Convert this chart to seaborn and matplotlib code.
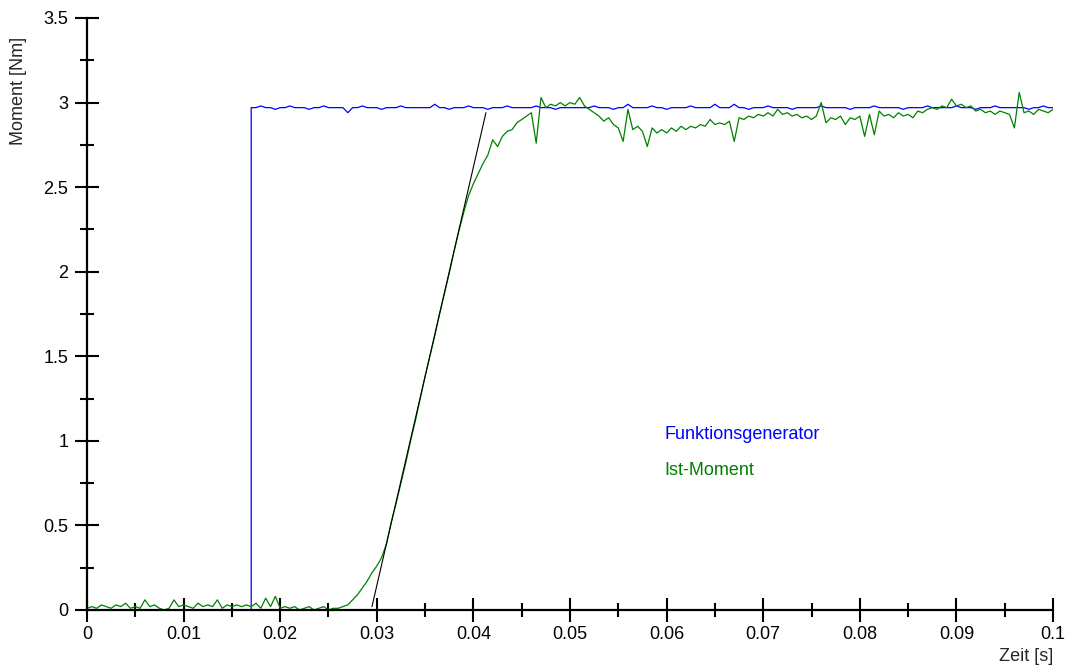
import numpy as np
import seaborn as sns
import matplotlib
matplotlib.use('Agg')
import matplotlib.pyplot as plt
from matplotlib.ticker import MultipleLocator, FormatStrFormatter

# samples every 0.5 ms from 0 to 0.1 s
t_start, t_end = 0.0, 0.1
step_index = 34  # sample where the setpoint jumps (t = 0.017 s)

# Funktionsgenerator (setpoint)
blue = [
    0.00, 0.00, 0.00, 0.00, 0.00, 0.00, 0.00, 0.00, 0.00, 0.00,
    0.00, 0.00, 0.00, 0.00, 0.00, 0.00, 0.00, 0.00, 0.00, 0.00,
    0.00, 0.00, 0.00, 0.00, 0.00, 0.00, 0.00, 0.00, 0.00, 0.00,
    0.00, 0.00, 0.00, 0.00, 2.97, 2.97, 2.98, 2.97, 2.97, 2.96,
    2.97, 2.97, 2.98, 2.97, 2.97, 2.97, 2.96, 2.97, 2.97, 2.98,
    2.97, 2.97, 2.97, 2.97, 2.94, 2.97, 2.97, 2.98, 2.97, 2.97,
    2.97, 2.96, 2.97, 2.97, 2.97, 2.98, 2.97, 2.97, 2.97, 2.97,
    2.97, 2.97, 2.99, 2.97, 2.97, 2.96, 2.97, 2.97, 2.97, 2.98,
    2.97, 2.97, 2.97, 2.96, 2.97, 2.97, 2.97, 2.98, 2.97, 2.97,
    2.97, 2.97, 2.97, 2.98, 2.97, 2.97, 2.97, 2.96, 2.97, 2.97,
    2.97, 2.97, 2.97, 2.97, 2.97, 2.98, 2.97, 2.97, 2.97, 2.96,
    2.97, 2.97, 2.99, 2.97, 2.97, 2.97, 2.97, 2.98, 2.97, 2.97,
    2.96, 2.97, 2.97, 2.97, 2.97, 2.98, 2.97, 2.97, 2.97, 2.97,
    2.99, 2.97, 2.97, 2.97, 2.99, 2.97, 2.97, 2.96, 2.97, 2.97,
    2.97, 2.98, 2.97, 2.97, 2.97, 2.97, 2.96, 2.97, 2.97, 2.97,
    2.97, 2.97, 2.98, 2.97, 2.97, 2.97, 2.97, 2.97, 2.96, 2.97,
    2.97, 2.97, 2.97, 2.98, 2.97, 2.97, 2.97, 2.97, 2.97, 2.96,
    2.97, 2.97, 2.97, 2.97, 2.98, 2.97, 2.97, 2.97, 2.97, 2.97,
    2.98, 2.97, 2.97, 2.97, 2.96, 2.97, 2.97, 2.97, 2.98, 2.97,
    2.97, 2.97, 2.97, 2.97, 2.97, 2.96, 2.97, 2.97, 2.98, 2.97,
    2.97,
]

# Ist-Moment (measured torque)
green = [
    0.01, 0.02, 0.01, 0.03, 0.02, 0.01, 0.03, 0.02, 0.04, 0.01,
    0.02, 0.01, 0.06, 0.02, 0.03, 0.01, 0.00, 0.01, 0.06, 0.02,
    0.03, 0.02, 0.01, 0.04, 0.02, 0.03, 0.02, 0.06, 0.01, 0.03,
    0.02, 0.03, 0.02, 0.03, 0.02, 0.04, 0.01, 0.07, 0.02, 0.08,
    0.01, 0.02, 0.01, 0.02, 0.00, 0.01, 0.02, 0.00, 0.01, 0.02,
    0.00, 0.01, 0.01, 0.02, 0.03, 0.06, 0.09, 0.13, 0.17, 0.22,
    0.26, 0.31, 0.39, 0.52, 0.63, 0.75, 0.87, 1.00, 1.12, 1.25,
    1.38, 1.50, 1.62, 1.75, 1.87, 1.99, 2.12, 2.24, 2.35, 2.45,
    2.52, 2.58, 2.64, 2.69, 2.78, 2.74, 2.80, 2.83, 2.84, 2.88,
    2.90, 2.92, 2.94, 2.76, 3.03, 2.97, 2.99, 2.98, 3.00, 2.98,
    3.00, 2.99, 3.03, 2.98, 2.96, 2.94, 2.92, 2.89, 2.91, 2.87,
    2.85, 2.77, 2.96, 2.84, 2.86, 2.83, 2.74, 2.85, 2.82, 2.84,
    2.82, 2.85, 2.83, 2.86, 2.84, 2.86, 2.85, 2.87, 2.86, 2.90,
    2.87, 2.88, 2.87, 2.89, 2.77, 2.91, 2.90, 2.92, 2.91, 2.93,
    2.92, 2.94, 2.92, 2.96, 2.93, 2.94, 2.92, 2.93, 2.91, 2.92,
    2.90, 2.92, 3.00, 2.88, 2.91, 2.90, 2.92, 2.87, 2.91, 2.90,
    2.92, 2.80, 2.93, 2.81, 2.95, 2.92, 2.93, 2.91, 2.94, 2.92,
    2.93, 2.91, 2.95, 2.94, 2.96, 2.97, 2.96, 2.98, 2.97, 3.02,
    2.98, 2.99, 2.97, 2.98, 2.95, 2.96, 2.94, 2.95, 2.93, 2.95,
    2.94, 2.93, 2.85, 3.06, 2.94, 2.95, 2.93, 2.96, 2.95, 2.94,
    2.96,
]

# tangent through the rising edge
tangent_t = [0.0295, 0.0413]
tangent_v = [0.02, 2.94]

x_ticks = [0, 0.01, 0.02, 0.03, 0.04, 0.05, 0.06, 0.07, 0.08, 0.09, 0.1]
y_ticks = [0, 0.5, 1, 1.5, 2, 2.5, 3, 3.5]

t = np.linspace(t_start, t_end, len(green))

# vertical jump of the setpoint: repeat the jump time with the old level
blue_t = np.concatenate([t[:step_index + 1], t[step_index:]])
blue_v = blue[:step_index] + [blue[step_index - 1]] + blue[step_index:]

sns.set_style('ticks')
plt.rcParams['font.family'] = ['Liberation Sans', 'DejaVu Sans']

fig = plt.figure(figsize=(10.67, 6.69), dpi=100)
ax = fig.add_axes([0.0815, 0.0882, 0.9054, 0.8849])

sns.lineplot(x=blue_t, y=blue_v, ax=ax, color='#0000ff', lw=0.9,
             sort=False, estimator=None)
sns.lineplot(x=t, y=green, ax=ax, color='#008000', lw=0.9, sort=False,
             estimator=None)
sns.lineplot(x=tangent_t, y=tangent_v, ax=ax, color='black', lw=0.8,
             sort=False, estimator=None)

ax.set_xlim(x_ticks[0], x_ticks[-1])
ax.set_ylim(y_ticks[0], y_ticks[-1])
ax.set_xticks(x_ticks)
ax.set_yticks(y_ticks)
ax.xaxis.set_minor_locator(MultipleLocator(0.005))
ax.yaxis.set_minor_locator(MultipleLocator(0.25))
ax.xaxis.set_major_formatter(FormatStrFormatter('%g'))
ax.yaxis.set_major_formatter(FormatStrFormatter('%g'))

sns.despine(ax=ax)
for s in ['left', 'bottom']:
    ax.spines[s].set_linewidth(1.6)
    ax.spines[s].set_color('black')
ax.tick_params(which='major', direction='inout', length=17, width=1.5,
               labelsize=13, colors='black', pad=3)
ax.tick_params(which='minor', direction='inout', length=10, width=1.5,
               colors='black')
ax.tick_params(axis='y', which='major', pad=5)
ax.set_xlabel('')
ax.set_ylabel('')

fig.text(0.0169, 0.864, 'Moment [Nm]', rotation=90, ha='center',
         va='center', fontsize=13)
fig.text(0.987, 0.019, 'Zeit [s]', ha='right', va='center', fontsize=13)

ax.text(0.598, 0.297, 'Funktionsgenerator', color='#0000ff',
        transform=ax.transAxes, fontsize=13, va='center')
ax.text(0.598, 0.235, 'Ist-Moment', color='#008000',
        transform=ax.transAxes, fontsize=13, va='center')

fig.savefig('out.png', dpi=100)
